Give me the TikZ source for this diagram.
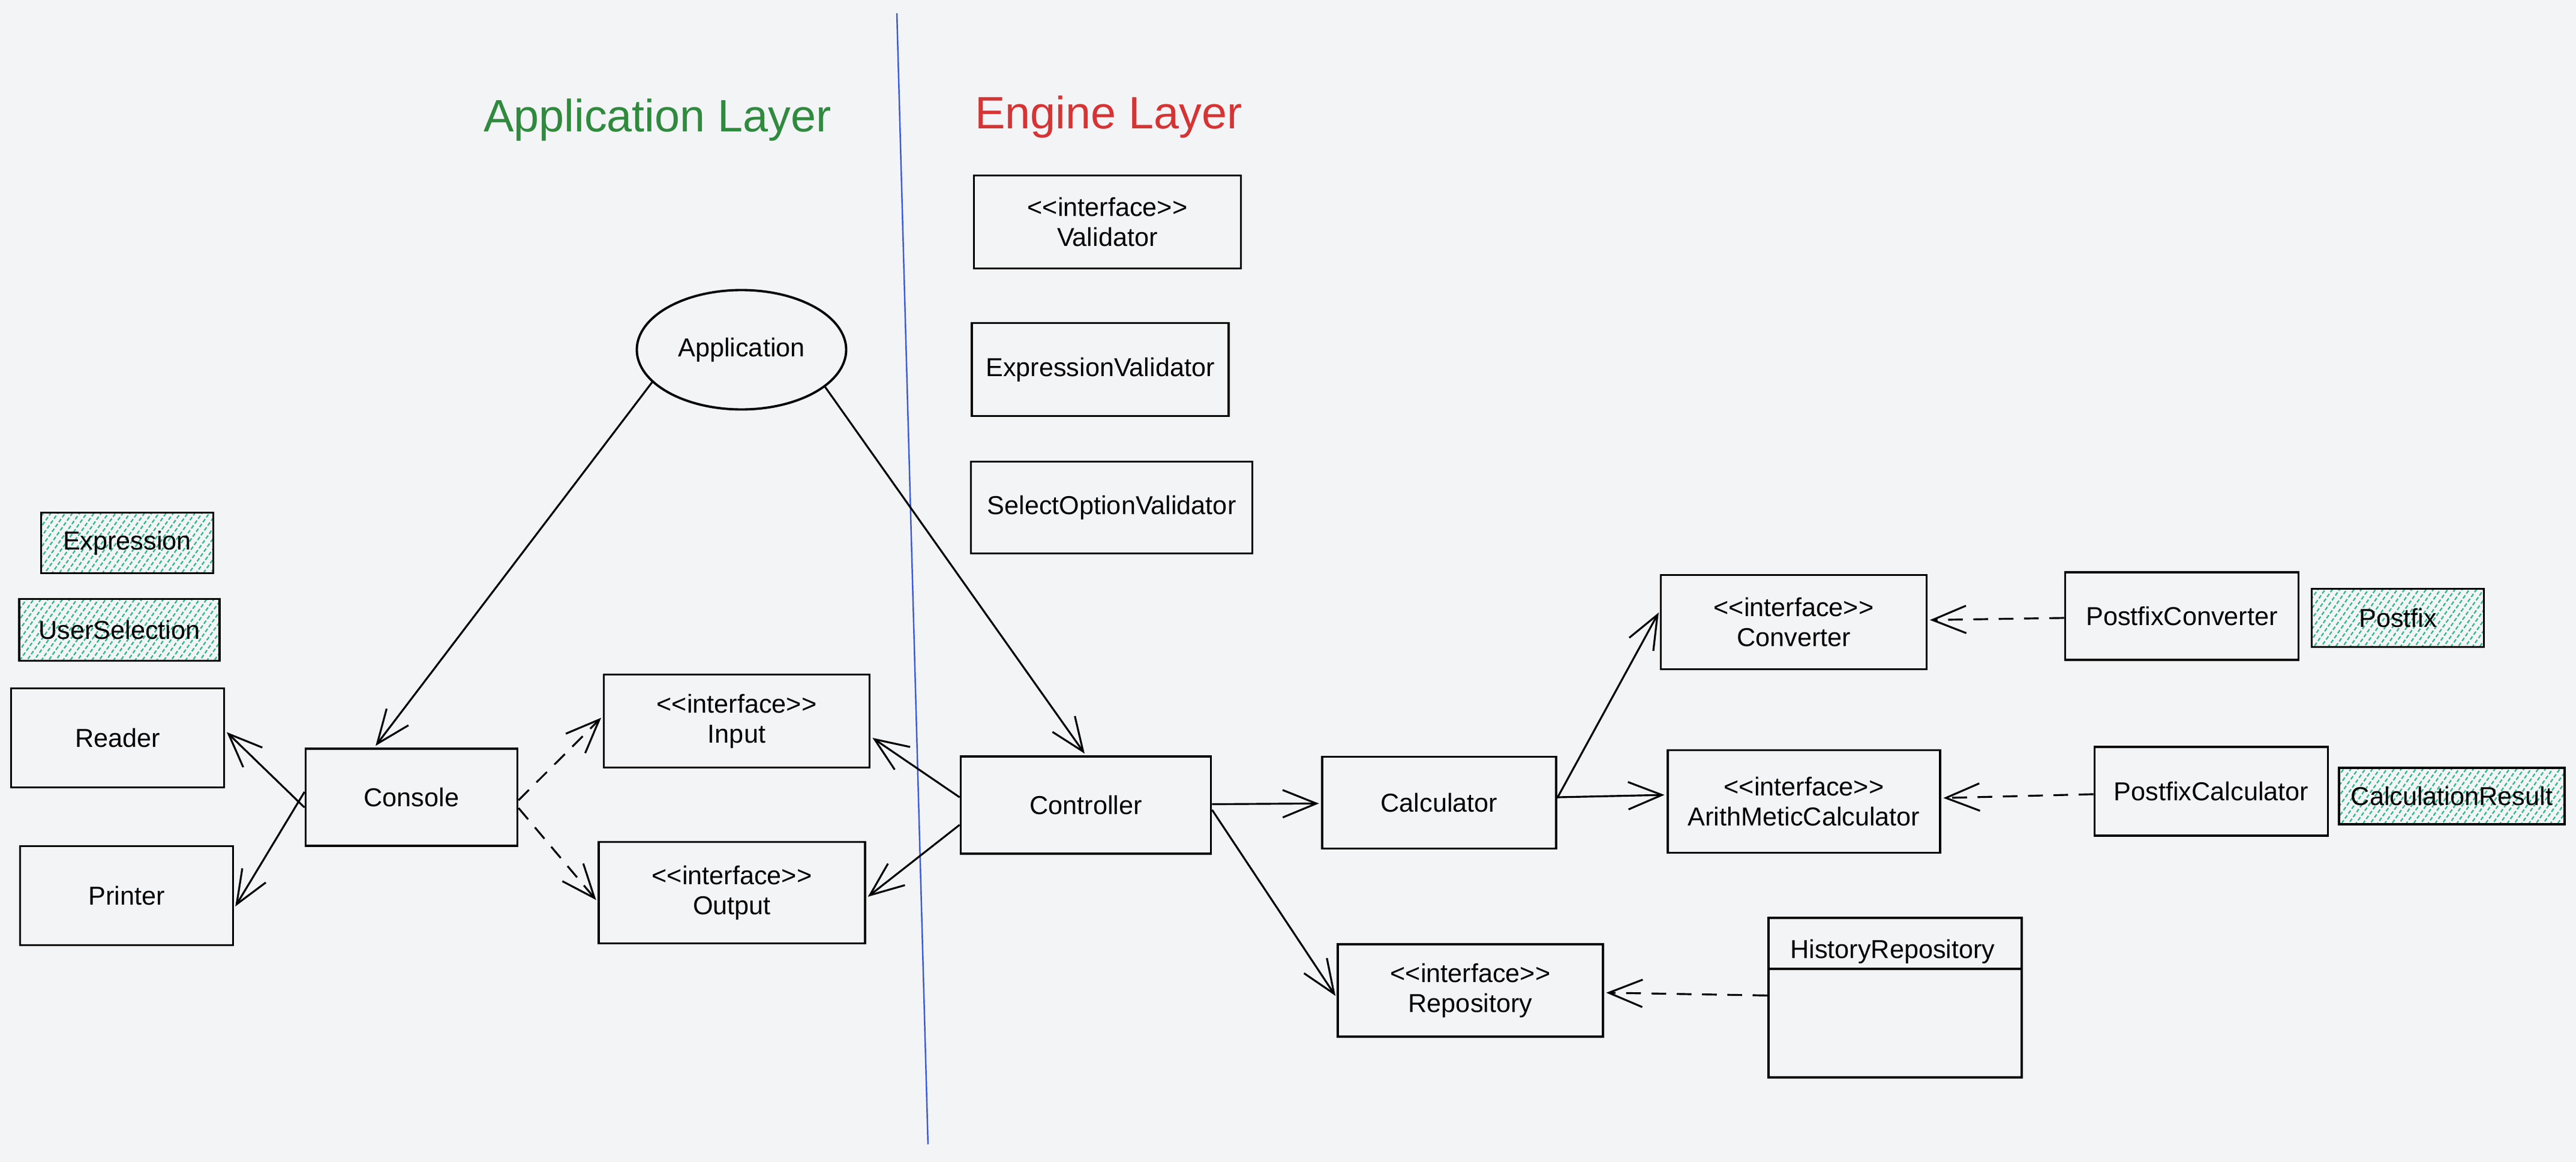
\documentclass[tikz,border=0pt]{standalone}
\usepackage{fontspec}
\setmainfont{Liberation Sans}
\usetikzlibrary{arrows.meta,shapes.geometric,patterns.meta,calc}
\definecolor{canvas}{HTML}{F3F4F6}
\definecolor{hatch}{HTML}{2DB98C}
\definecolor{titlegreen}{HTML}{2F8A3E}
\definecolor{titlered}{HTML}{D63434}
\definecolor{layerline}{HTML}{3B5BDB}
\newcommand{\intf}{<\kern0pt<interface>\kern0pt>}

\begin{document}
\begin{tikzpicture}[shorten >=1pt,>={Straight Barb[length=16pt,width=13pt]},line width=0.9pt,
        font=\fontsize{12.3}{14.2}\selectfont]
        \tikzstyle{box}=[draw,rectangle,line width=1.1pt,inner sep=0pt,align=center]
        \tikzstyle{data}=[box,pattern={Lines[angle=55,distance=2.8pt,line width=0.65pt]},pattern color=hatch]
        \tikzstyle{usecase}=[draw,ellipse,line width=1.1pt,inner sep=0pt]
        \tikzstyle{title}=[font=\fontsize{21.5}{24}\selectfont,anchor=base,inner sep=0pt]
        \tikzstyle{dep}=[dash pattern=on 7pt off 5pt]

        \fill[canvas] (0,0) rectangle (42.94,-19.37);
        \useasboundingbox (0,0) rectangle (42.94,-19.37);
        \draw[layerline,line width=0.7pt] (14.95,-0.22) -- (15.47,-19.11);

        \node[title,text=titlegreen] (T01) at (10.96,-2.19) {Application Layer};
        \node[title,text=titlered]   (T02) at (18.48,-2.15) {Engine Layer};

        \node[data,minimum width=2.87cm,minimum height=1.01cm] (D01) at (2.12,-9.05)  {Expression}; % data
        \node[data,minimum width=3.34cm,minimum height=1.03cm] (D02) at (1.99,-10.50) {UserSelection};
        \node[data,minimum width=2.87cm,minimum height=0.97cm] (D03) at (39.97,-10.30) {Postfix};
        \node[data,minimum width=3.76cm,minimum height=0.94cm] (D04) at (40.87,-13.27) {CalculationResult};

        \node[usecase,minimum width=3.49cm,minimum height=1.99cm] (A00) at (12.36,-5.83) {Application}; % application
        \node[box,minimum width=3.55cm,minimum height=1.65cm] (A01) at (1.96,-12.30)  {Reader};
        \node[box,minimum width=3.55cm,minimum height=1.65cm] (A02) at (2.11,-14.93)  {Printer};
        \node[box,minimum width=3.53cm,minimum height=1.62cm] (A03) at (6.86,-13.29)  {Console};
        \node[box,minimum width=4.43cm,minimum height=1.55cm] (A04) at (12.28,-12.02) {\intf\\Input};
        \node[box,minimum width=4.44cm,minimum height=1.69cm] (A05) at (12.20,-14.88) {\intf\\Output};

        \node[box,minimum width=4.45cm,minimum height=1.55cm] (E01) at (18.46,-3.70)  {\intf\\Validator}; % engine
        \node[box,minimum width=4.28cm,minimum height=1.55cm] (E02) at (18.34,-6.16)  {ExpressionValidator};
        \node[box,minimum width=4.69cm,minimum height=1.53cm] (E03) at (18.53,-8.46)  {SelectOptionValidator};
        \node[box,minimum width=4.17cm,minimum height=1.62cm] (E04) at (18.10,-13.42) {Controller};
        \node[box,minimum width=3.90cm,minimum height=1.53cm] (E05) at (23.99,-13.38) {Calculator};
        \node[box,minimum width=4.43cm,minimum height=1.57cm] (E06) at (29.90,-10.37) {\intf\\Converter};
        \node[box,minimum width=4.54cm,minimum height=1.71cm] (E07) at (30.07,-13.36) {\intf\\ArithMeticCalculator};
        \node[box,minimum width=4.42cm,minimum height=1.54cm] (E08) at (24.51,-16.51) {\intf\\Repository};
        \node[box,minimum width=3.89cm,minimum height=1.46cm] (E09) at (36.37,-10.27) {PostfixConverter};
        \node[box,minimum width=3.89cm,minimum height=1.48cm] (E10) at (36.86,-13.19) {PostfixCalculator};
        \node[box,minimum width=4.22cm,minimum height=2.66cm] (E11) at (31.59,-16.63) { };
        \node (E12) at (31.55,-15.86) {HistoryRepository};
        \draw[line width=1.1pt] ($(E11.north west)!0.323!(E11.south west)$) -- ($(E11.north east)!0.323!(E11.south east)$);

        \path[->]
                  (A00.200) edge ([xshift=-0.62cm]A03.north)
                  (A00.336) edge (E04.north)
                  ([yshift=-0.17cm]A03.west) edge ([yshift=0.12cm]A01.east)
                  ([yshift=0.09cm]A03.west)  edge ([yshift=-0.21cm]A02.east)
                  ([yshift=-0.05cm]A03.east) edge [dep] ([yshift=0.08cm]A04.west)
                  ([yshift=-0.18cm]A03.east) edge [dep] ([yshift=-0.15cm]A05.west)
                  ([yshift=0.13cm]E04.west)  edge ([yshift=-0.26cm]A04.east)
                  ([yshift=-0.33cm]E04.west) edge ([yshift=-0.09cm]A05.east)
                  (E04) edge (E05)
                  ([yshift=-0.08cm]E04.east) edge ([yshift=-0.12cm]E08.west)
                  ([yshift=0.08cm]E05.east)  edge ([yshift=0.19cm]E06.west)
                  ([yshift=0.09cm]E05.east)  edge ([yshift=0.11cm]E07.west)
                  (E09) edge [dep] (E06)
                  (E10) edge [dep] (E07)
                  (E11) edge [dep] (E08);
\end{tikzpicture}
\end{document}
